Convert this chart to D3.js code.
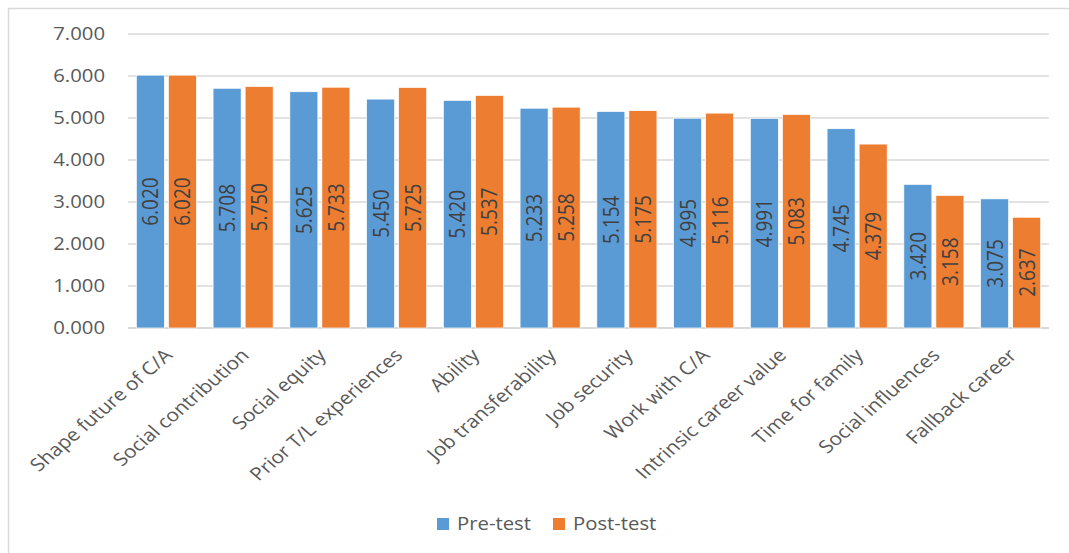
<!DOCTYPE html>
<html>
<head>
<meta charset="utf-8">
<script src="https://cdn.jsdelivr.net/npm/d3@7"></script>
<style>
  body { margin: 0; background: #fff; }
  svg { display: block; }
</style>
</head>
<body>
<svg id="chart" width="1069" height="553"></svg>
<script>
// data
let categories = ["Shape future of C/A", "Social contribution", "Social equity", "Prior T/L experiences",
    "Ability", "Job transferability", "Job security", "Work with C/A", "Intrinsic career value",
    "Time for family", "Social influences", "Fallback career"];
let pre_test = [6.020, 5.708, 5.625, 5.450, 5.420, 5.233, 5.154, 4.995, 4.991, 4.745, 3.420, 3.075];
let post_test = [6.020, 5.750, 5.733, 5.725, 5.537, 5.258, 5.175, 5.116, 5.083, 4.379, 3.158, 2.637];
let series_names = ["Pre-test", "Post-test"];
let y_ticks = [0, 1, 2, 3, 4, 5, 6, 7];

let colors = ["#5b9bd5", "#ed7d31"];
let font = "'Open Sans', 'Noto Sans', sans-serif";
// the source picture is stretched a little horizontally, text included
let stretch = 1.16;

let svg = d3.select("#chart");

// outer chart border
svg.append("rect")
    .attr("x", 8.5).attr("y", 8.5)
    .attr("width", 1080).attr("height", 560)
    .attr("fill", "none")
    .attr("stroke", "#d9d9d9")
    .attr("stroke-width", 1.5);

let plot_left = 128, plot_right = 1049, plot_top = 34, plot_bottom = 328;

let x = d3.scaleBand().domain(categories).range([plot_left, plot_right]);
let y = d3.scaleLinear().domain([0, 7]).range([plot_bottom, plot_top]);
let xs = d3.scaleBand().domain(series_names).range([0, x.bandwidth()]).paddingInner(0.125).paddingOuter(0.26);

// gridlines
svg.append("g")
    .selectAll("line").data(y_ticks).join("line")
    .attr("x1", plot_left).attr("x2", plot_right)
    .attr("y1", d => y(d)).attr("y2", d => y(d))
    .attr("stroke", "#d9d9d9")
    .attr("stroke-width", d => d === 0 ? 2 : 1.5);

// y axis labels
let y_axis = d3.axisLeft(y).tickValues(y_ticks).tickFormat(d3.format(".3f")).tickSize(0).tickPadding(23 / stretch);
svg.append("g")
    .attr("transform", "translate(" + plot_left + ",0)")
    .call(y_axis)
    .call(g => g.select(".domain").remove())
    .selectAll("text")
    .attr("transform", "scale(" + stretch + ",1)")
    .style("font-family", font)
    .style("font-size", "17.5px")
    .attr("fill", "#595959");

let data = [pre_test, post_test];

let groups = svg.append("g").selectAll("g").data(series_names).join("g")
    .attr("fill", (d, i) => colors[i]);

groups.selectAll("rect")
    .data((s, i) => data[i].map((v, j) => ({cat: categories[j], v: v, s: s})))
    .join("rect")
    .attr("x", d => x(d.cat) + xs(d.s))
    .attr("y", d => y(d.v))
    .attr("width", xs.bandwidth())
    .attr("height", d => y(0) - y(d.v))
    .attr("stroke", "#fff")
    .attr("stroke-width", 0.7);

// value labels, rotated inside the bars
groups.selectAll("text")
    .data((s, i) => data[i].map((v, j) => ({cat: categories[j], v: v, s: s})))
    .join("text")
    .attr("transform", d => {
        let cx = x(d.cat) + xs(d.s) + xs.bandwidth() / 2;
        let cy = (y(d.v) + y(0)) / 2;
        return "translate(" + cx + "," + cy + ") rotate(-90) scale(1," + stretch + ")";
    })
    .attr("text-anchor", "middle")
    .attr("dy", "0.36em")
    .attr("fill", "#404040")
    .style("font-family", font)
    .style("font-size", "19px")
    .text(d => d3.format(".3f")(d.v));

// x axis labels, rotated -45 before the stretch
svg.append("g").selectAll("text").data(categories).join("text")
    .attr("transform", d => "translate(" + (x(d) + x.bandwidth() / 2 + 2) + "," + (plot_bottom + 24) + ") scale(" + stretch + ",1) rotate(-45)")
    .attr("text-anchor", "end")
    .attr("dy", "0.35em")
    .attr("fill", "#595959")
    .style("font-family", font)
    .style("font-size", "18px")
    .text(d => d);

// legend
let legend = svg.append("g").attr("transform", "translate(437,518)");
let lx = [0, 116];
series_names.forEach((s, i) => {
    legend.append("rect")
        .attr("x", lx[i]).attr("y", 0)
        .attr("width", 12).attr("height", 12)
        .attr("fill", colors[i]);
    legend.append("text")
        .attr("transform", "translate(" + (lx[i] + 20) + ",6) scale(" + stretch + ",1)")
        .attr("dy", "0.35em")
        .attr("fill", "#595959")
        .style("font-family", font)
        .style("font-size", "17.5px")
        .text(s);
});
</script>
</body>
</html>
